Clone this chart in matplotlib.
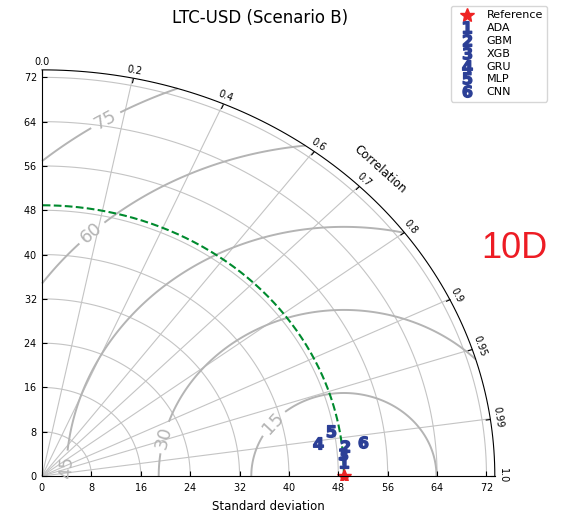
import numpy as np
import matplotlib
matplotlib.use('Agg')
import matplotlib.pyplot as plt
from matplotlib.projections import PolarAxes
import mpl_toolkits.axisartist.floating_axes as FA
import mpl_toolkits.axisartist.grid_finder as GF

# values
ref_std = 48.9
models = ['ADA', 'GBM', 'XGB', 'GRU', 'MLP', 'CNN']
stds = [48.93, 49.33, 48.86, 45.04, 47.57, 52.31]
corrs = [0.9986, 0.9940, 0.9967, 0.9911, 0.9854, 0.9931]

rlocs = np.array([0, 0.2, 0.4, 0.6, 0.7, 0.8, 0.9, 0.95, 0.99, 1.0])
std_ticks = [0, 8, 16, 24, 32, 40, 48, 56, 64, 72]
rms_levels = [15, 30, 45, 60, 75]

blue = '#2b3f96'

fig = plt.figure(figsize=(5.71, 5.29), dpi=100)

tr = PolarAxes.PolarTransform(apply_theta_transforms=False)
smax = 1.5 * ref_std
tlocs = np.arccos(rlocs)
gl1 = GF.FixedLocator(tlocs)
tf1 = GF.DictFormatter(dict(zip(tlocs, map(str, rlocs))))
gl2 = GF.FixedLocator(std_ticks)

ghelper = FA.GridHelperCurveLinear(tr, extremes=(0, np.pi / 2, 0, smax),
                                   grid_locator1=gl1, tick_formatter1=tf1,
                                   grid_locator2=gl2)
ax = FA.FloatingAxes(fig, [0.0657, 0.0924, 0.8088, 0.7832], grid_helper=ghelper)
fig.add_axes(ax)
ax.set_aspect('auto')

ax.axis["top"].set_axis_direction("bottom")
ax.axis["top"].toggle(ticklabels=True, label=True)
ax.axis["top"].major_ticklabels.set_axis_direction("top")
ax.axis["top"].label.set_axis_direction("top")
ax.axis["top"].label.set_text("Correlation")

ax.axis["left"].set_axis_direction("bottom")
ax.axis["left"].label.set_text("Standard deviation")

ax.axis["right"].set_axis_direction("top")
ax.axis["right"].toggle(ticklabels=True)
ax.axis["right"].major_ticklabels.set_axis_direction("left")
ax.axis["bottom"].set_visible(False)

for k in ["top", "left", "right"]:
    ax.axis[k].major_ticklabels.set_fontsize(7)
    ax.axis[k].label.set_fontsize(8.5)
    ax.axis[k].line.set_linewidth(0.8)

ax.grid(True, color='#c4c4c4', linewidth=0.8)

aux = ax.get_aux_axes(tr)

# RMS contours around the reference point
rs, ts = np.meshgrid(np.linspace(0, smax, 300), np.linspace(0, np.pi / 2, 300))
rms = np.sqrt(ref_std**2 + rs**2 - 2 * ref_std * rs * np.cos(ts))
cs = aux.contour(ts, rs, rms, levels=rms_levels, colors='#b4b4b4', linewidths=1.4)
aux.clabel(cs, inline=True, fontsize=13, fmt='%.0f',
           manual=[(0.2665, 38.3), (0.349, 20.7), (0.40, 4.2),
                   (1.398, 45.0), (1.414, 65.3)])

# reference std arc
t = np.linspace(0, np.pi / 2, 200)
aux.plot(t, np.full_like(t, ref_std), color='#008a2e', ls='--', lw=1.5)

handles = []
h, = aux.plot([0], [ref_std], ls='', marker='*', color='#ee2222', ms=10,
              label='Reference')
handles.append(h)
for i, (name, s, c) in enumerate(zip(models, stds, corrs)):
    h, = aux.plot([np.arccos(c)], [s], ls='', marker=r'$\mathbf{%d}$' % (i + 1),
                  color=blue, ms=8.5, label=name)
    handles.append(h)

fig.legend(handles=handles, labels=[x.get_label() for x in handles],
           loc='upper left', bbox_to_anchor=(451 / 571, 1 - 6 / 529),
           borderaxespad=0, fontsize=8, labelspacing=0.25, numpoints=1)

fig.text(260 / 571, 1 - 18 / 529, 'LTC-USD (Scenario B)', ha='center',
         va='center', fontsize=12)
fig.text(481 / 571, 1 - 257.7 / 529, '10D', color='#ed1c24', fontsize=26,
         family='Liberation Sans', ha='left', va='baseline')

fig.savefig('out.png', dpi=100)
